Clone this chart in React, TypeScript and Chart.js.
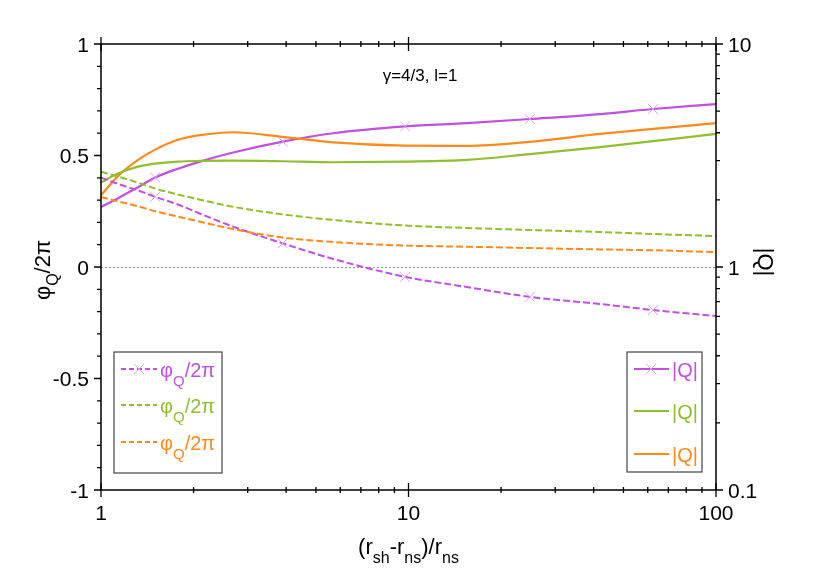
import React, { useRef, useEffect } from 'react';
import { Chart, registerables } from 'chart.js';

Chart.register(...registerables);

const FONT = '"Liberation Sans", Arial, sans-serif';

// x positions (r_sh - r_ns)/r_ns
const xs = [1, 1.14, 1.32, 1.5, 1.78, 2.1, 2.69, 3.9, 5.7, 9.75, 15.5, 24.8, 42, 62.4, 100];
const markerXs = [1.5, 3.9, 9.75, 24.8, 62.4];

// |Q| (right axis, log)
const qPurple = [1.86, 2.04, 2.28, 2.52, 2.76, 2.97, 3.26, 3.65, 3.98, 4.27, 4.42, 4.61, 4.85, 5.11, 5.38];
const qGreen = [2.39, 2.63, 2.82, 2.91, 2.97, 2.99, 3.0, 2.98, 2.95, 2.97, 3.02, 3.21, 3.45, 3.67, 3.95];
const qOrange = [2.1, 2.57, 3.02, 3.36, 3.72, 3.9, 4.02, 3.83, 3.62, 3.5, 3.49, 3.64, 3.95, 4.16, 4.42];

// phi_Q / 2pi (left axis)
const phiPurple = [0.4, 0.372, 0.343, 0.315, 0.28, 0.239, 0.181, 0.106, 0.036, -0.044, -0.09, -0.134, -0.166, -0.193, -0.22];
const phiGreen = [0.427, 0.405, 0.378, 0.352, 0.325, 0.302, 0.27, 0.236, 0.211, 0.186, 0.175, 0.166, 0.157, 0.148, 0.139];
const phiOrange = [0.314, 0.294, 0.272, 0.25, 0.226, 0.203, 0.17, 0.132, 0.112, 0.096, 0.091, 0.085, 0.079, 0.075, 0.067];

// tick labels
const xLabels = [1, 10, 100];
const yLeftLabels = [1, 0.5, 0, -0.5, -1];
const yRightLabels = [10, 1, 0.1];

const PURPLE = '#c050e0';
const GREEN = '#8fbe2e';
const ORANGE = '#ff8a1c';
const MARK = '#d9a0f2';

type Part = [string, boolean];

function drawRich(ctx: CanvasRenderingContext2D, parts: Part[], x: number, y: number,
  main: number, sub: number, shift: number, align: 'left' | 'center') {
  const fontOf = (s: boolean) => `${s ? sub : main}px ${FONT}`;
  let w = 0;
  for (const [t, s] of parts) { ctx.font = fontOf(s); w += ctx.measureText(t).width; }
  let cx = align === 'center' ? x - w / 2 : x;
  ctx.textAlign = 'left';
  ctx.textBaseline = 'alphabetic';
  for (const [t, s] of parts) {
    ctx.font = fontOf(s);
    ctx.fillText(t, cx, s ? y + shift : y);
    cx += ctx.measureText(t).width;
  }
}

function drawCross(ctx: CanvasRenderingContext2D, x: number, y: number, r: number) {
  ctx.save();
  ctx.strokeStyle = MARK;
  ctx.lineWidth = 1;
  ctx.setLineDash([]);
  ctx.beginPath();
  ctx.moveTo(x - r, y - r); ctx.lineTo(x + r, y + r);
  ctx.moveTo(x - r, y + r); ctx.lineTo(x + r, y - r);
  ctx.stroke();
  ctx.restore();
}

const logMinor = (lo: number, hi: number) => {
  const out: number[] = [];
  for (let d = lo; d < hi; d *= 10) for (let k = 1; k < 10; k++) out.push(d * k);
  out.push(hi);
  return out;
};

const decorations = {
  id: 'decorations',
  beforeDatasetsDraw(chart: any) {
    const { ctx, chartArea: a, scales } = chart;
    const y0 = Math.round(scales.y.getPixelForValue(0)) + 0.5;
    ctx.save();
    ctx.strokeStyle = '#8c8c8c';
    ctx.lineWidth = 1;
    ctx.setLineDash([2, 2]);
    ctx.beginPath();
    ctx.moveTo(a.left, y0);
    ctx.lineTo(a.right, y0);
    ctx.stroke();
    ctx.restore();
  },
  afterDraw(chart: any) {
    const { ctx, chartArea: a, scales } = chart;
    ctx.save();
    ctx.strokeStyle = '#000';
    ctx.fillStyle = '#000';
    ctx.lineWidth = 1.5;
    ctx.strokeRect(a.left, a.top, a.right - a.left, a.bottom - a.top);

    // x ticks top & bottom
    ctx.lineWidth = 1.3;
    ctx.beginPath();
    for (const v of logMinor(1, 100)) {
      const px = scales.x.getPixelForValue(v);
      const major = xLabels.includes(v);
      const L = major ? 7 : 3;
      ctx.moveTo(px, a.bottom - L); ctx.lineTo(px, a.bottom + L);
      ctx.moveTo(px, a.top - L); ctx.lineTo(px, a.top + L);
    }
    // left ticks
    for (let i = -10; i <= 10; i++) {
      const py = scales.y.getPixelForValue(i / 10);
      const L = i % 5 === 0 ? 7 : 4;
      ctx.moveTo(a.left - L, py); ctx.lineTo(a.left, py);
    }
    // right ticks
    for (const v of logMinor(0.1, 10)) {
      const py = scales.y2.getPixelForValue(v);
      const major = yRightLabels.includes(v);
      ctx.moveTo(a.right, py); ctx.lineTo(a.right + (major ? 7 : 4), py);
    }
    ctx.stroke();

    // tick labels
    ctx.font = `21px ${FONT}`;
    ctx.textBaseline = 'alphabetic';
    ctx.textAlign = 'center';
    for (const v of xLabels) ctx.fillText(String(v), scales.x.getPixelForValue(v), a.bottom + 30);
    ctx.textAlign = 'right';
    for (const v of yLeftLabels) ctx.fillText(String(v), a.left - 12, scales.y.getPixelForValue(v) + 7.5);
    ctx.textAlign = 'left';
    for (const v of yRightLabels) ctx.fillText(String(v), a.right + 12, scales.y2.getPixelForValue(v) + 7.5);

    // axis titles
    drawRich(ctx, [['(r', false], ['sh', true], ['-r', false], ['ns', true], [')/r', false], ['ns', true]],
      (a.left + a.right) / 2, 554, 22, 16, 9, 'center');
    ctx.save();
    ctx.translate(50, 270);
    ctx.rotate(-Math.PI / 2);
    drawRich(ctx, [['\u03c6', false], ['Q', true], ['/2\u03c0', false]], 0, 0, 22, 16, 8, 'center');
    ctx.restore();
    ctx.save();
    ctx.translate(758, 262);
    ctx.rotate(Math.PI / 2);
    ctx.font = `22px ${FONT}`;
    ctx.textAlign = 'center';
    ctx.fillText('|Q|', 0, 0);
    ctx.restore();

    // annotation
    ctx.font = `17px ${FONT}`;
    ctx.textAlign = 'center';
    ctx.fillText('\u03b3=4/3, l=1', 420, 81);

    // legends
    ctx.fillStyle = '#fff';
    ctx.fillRect(114, 352, 108, 121);
    ctx.fillRect(627, 352, 75, 120);
    ctx.strokeStyle = '#444';
    ctx.lineWidth = 1.2;
    ctx.strokeRect(114, 352, 108, 121);
    ctx.strokeRect(627, 352, 75, 120);

    const colors = [PURPLE, GREEN, ORANGE];
    const leftRows = [369, 405, 442];
    const rightRows = [369, 411, 454];
    colors.forEach((c, i) => {
      ctx.strokeStyle = c;
      ctx.lineWidth = 2;
      ctx.setLineDash([5, 3]);
      ctx.beginPath();
      ctx.moveTo(121, leftRows[i]); ctx.lineTo(157, leftRows[i]);
      ctx.stroke();
      ctx.setLineDash([]);
      ctx.beginPath();
      ctx.moveTo(634, rightRows[i]); ctx.lineTo(669, rightRows[i]);
      ctx.stroke();
      if (i === 0) { drawCross(ctx, 139, leftRows[i], 5); drawCross(ctx, 651, rightRows[i], 5); }
      ctx.fillStyle = c;
      drawRich(ctx, [['\u03c6', false], ['Q', true], ['/2\u03c0', false]], 160, leftRows[i] + 8, 20, 15, 9, 'left');
      ctx.font = `20px ${FONT}`;
      ctx.textAlign = 'left';
      ctx.fillText('|Q|', 672, rightRows[i] + 8);
    });
    ctx.restore();
  },
};

const pts = (arr: number[]) => xs.map((x, i) => ({ x, y: arr[i] }));
const markerRadius = (c: any) => (markerXs.includes(xs[c.dataIndex]) ? 7 : 0);

const App: React.FC = () => {
  const canvasRef = useRef<HTMLCanvasElement>(null);

  useEffect(() => {
    if (!canvasRef.current) return;
    const solid = (data: number[], color: string, marks: boolean) => ({
      data: pts(data), yAxisID: 'y2', borderColor: color, borderWidth: 2.2,
      pointStyle: 'crossRot', pointRadius: marks ? markerRadius : 0, pointBorderColor: MARK,
      pointBorderWidth: 1, pointHoverRadius: 0, cubicInterpolationMode: 'monotone',
    });
    const dashed = (data: number[], color: string, marks: boolean) => ({
      data: pts(data), yAxisID: 'y', borderColor: color, borderWidth: 2, borderDash: [7, 3],
      pointStyle: 'crossRot', pointRadius: marks ? markerRadius : 0, pointBorderColor: MARK,
      pointBorderWidth: 1, pointHoverRadius: 0, cubicInterpolationMode: 'monotone',
    });
    const hidden = { ticks: { display: false }, grid: { display: false }, border: { display: false } };
    const chart = new Chart(canvasRef.current, {
      type: 'line',
      data: {
        datasets: [
          dashed(phiOrange, ORANGE, false),
          dashed(phiGreen, GREEN, false),
          dashed(phiPurple, PURPLE, true),
          solid(qGreen, GREEN, false),
          solid(qOrange, ORANGE, false),
          solid(qPurple, PURPLE, true),
        ] as any,
      },
      options: {
        animation: false,
        responsive: false,
        layout: { padding: { top: 44, left: 0, right: 0, bottom: 0 } },
        plugins: { legend: { display: false }, tooltip: { enabled: false } },
        scales: {
          x: { type: 'logarithmic', min: 1, max: 100, position: 'bottom', ...hidden,
            afterFit: (s: any) => { s.height = 97; } },
          y: { type: 'linear', min: -1, max: 1, position: 'left', ...hidden,
            afterFit: (s: any) => { s.width = 101; } },
          y2: { type: 'logarithmic', min: 0.1, max: 10, position: 'right', ...hidden,
            afterFit: (s: any) => { s.width = 114; } },
        } as any,
      },
      plugins: [decorations],
    });
    return () => chart.destroy();
  }, []);

  return (
    <div style={{ position: 'absolute', left: 0, top: 0, width: 830, height: 587, background: '#fff' }}>
      <canvas ref={canvasRef} width={830} height={587} />
    </div>
  );
};

export default App;
